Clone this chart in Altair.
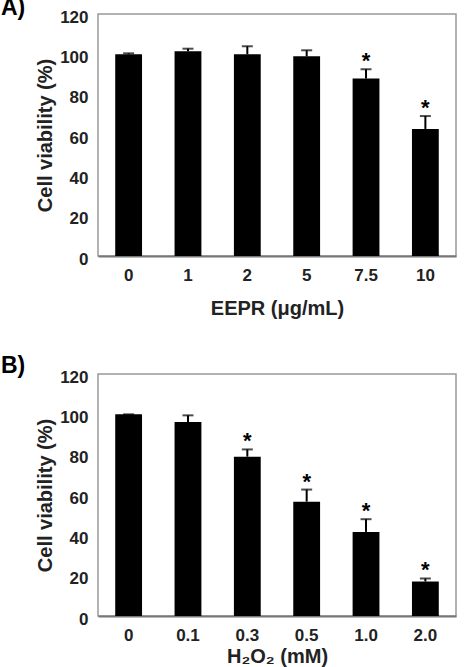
import altair as alt
import pandas as pd

# Panel A: EEPR
eepr_labels = ["0", "1", "2", "5", "7.5", "10"]
eepr_mean = [100.0, 101.5, 100.0, 99.0, 88.0, 63.0]
eepr_err = [0.5, 1.3, 4.0, 3.0, 4.6, 6.4]
eepr_sig = [False, False, False, False, True, True]

# Panel B: H2O2
h2o2_labels = ["0", "0.1", "0.3", "0.5", "1.0", "2.0"]
h2o2_mean = [100.0, 96.2, 79.0, 56.7, 41.7, 17.1]
h2o2_err = [0.0, 3.3, 3.6, 6.0, 6.3, 1.5]
h2o2_sig = [False, False, True, True, True, True]

y_ticks = [0, 20, 40, 60, 80, 100, 120]

FONT = "Liberation Sans"
TXT = "#222222"


def panel(labels, mean, err, sig, xtitle, tag, tag_y, xtitle_y):
    df = pd.DataFrame({
        "dose": labels,
        "mean": mean,
        "err": err,
        "sig": ["*" if s else "" for s in sig],
    })
    df["top"] = df["mean"] + df["err"]

    x = alt.X(
        "dose:N", sort=labels,
        scale=alt.Scale(paddingInner=0.548, paddingOuter=0.29),
        axis=alt.Axis(
            title=xtitle, labelAngle=0, ticks=False, labelPadding=11,
            labelFontSize=17, labelFont=FONT, labelFontWeight="bold", labelColor=TXT,
            titleFontSize=20, titleFont=FONT, titleFontWeight="bold", titleColor=TXT,
            titleBaseline="alphabetic", titleY=xtitle_y,
            domainColor="#777777", domainWidth=2,
        ),
    )
    y = alt.Y(
        "mean:Q",
        scale=alt.Scale(domain=[0, 120], nice=False),
        axis=alt.Axis(
            values=y_ticks, title="Cell viability (%)", ticks=False, domain=False,
            labelPadding=10, labelOffset=3, grid=False,
            labelFontSize=17, labelFont=FONT, labelFontWeight="bold", labelColor=TXT,
            titleFontSize=20, titleFont=FONT, titleFontWeight="bold", titleColor=TXT,
            titleBaseline="alphabetic", titleX=-47,
        ),
    )
    base = alt.Chart(df).encode(x=x)
    bars = base.mark_bar(color="black").encode(y=y)
    rule = base.mark_rule(color="black", strokeWidth=2).encode(y="mean:Q", y2="top:Q")
    cap = base.mark_tick(color="black", thickness=2, size=11).encode(y="top:Q")
    stars = base.mark_text(
        font=FONT, fontSize=22, fontWeight="bold", color="black",
        baseline="alphabetic", dy=-1,
    ).encode(y="top:Q", text="sig:N")
    tag_chart = alt.Chart(pd.DataFrame({"t": [tag]})).mark_text(
        font=FONT, fontSize=23, fontWeight="bold", color="black",
        align="left", baseline="alphabetic",
    ).encode(text="t:N", x=alt.value(-97), y=alt.value(tag_y))
    return alt.layer(bars, rule, cap, stars, tag_chart).properties(width=358, height=242)


a = panel(eepr_labels, eepr_mean, eepr_err, eepr_sig, "EEPR (μg/mL)", "A)", 1, 58)
b = panel(h2o2_labels, h2o2_mean, h2o2_err, h2o2_sig, "H₂O₂ (mM)", "B)", -1, 46)

chart = alt.vconcat(a, b, spacing=118, bounds="flush").properties(
    padding={"left": 0, "top": -4, "right": 10, "bottom": 0},
    background="white",
).configure_view(stroke="#999999", strokeWidth=1.5).configure_axis(grid=False)

chart.save("out.html", embed_options={"renderer": "svg", "actions": False})
